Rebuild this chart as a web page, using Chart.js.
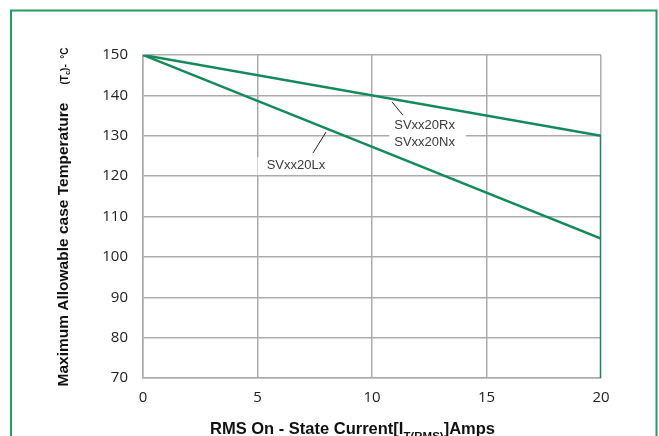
<!DOCTYPE html>
<html>
<head>
<meta charset="utf-8">
<script src="https://cdn.jsdelivr.net/npm/chart.js@4"></script>
<style>
html,body{margin:0;padding:0;background:#fff;}
#wrap{width:659px;height:436px;position:relative;}
</style>
</head>
<body>
<div id="wrap"><canvas id="c" width="659" height="436"></canvas></div>
<script>
// ---- data ----
const xTicks = [0, 5, 10, 15, 20];
const yTicks = [70, 80, 90, 100, 110, 120, 130, 140, 150];
const currentRN = [0, 20, 20];          // SVxx20Rx / SVxx20Nx (with drop at 20 A)
const tempRN    = [150, 130, 70];
const currentL  = [0, 20];              // SVxx20Lx
const tempL     = [150, 104.5];
const labelRx = "SVxx20Rx";
const labelNx = "SVxx20Nx";
const labelLx = "SVxx20Lx";

const GREEN = '#14895a';
const GRID = '#ababab';

function pts(xs, ys){ return xs.map((x,i)=>({x:x, y:ys[i]})); }

function drawRich(ctx, parts, x, y, align){
  let w = 0;
  parts.forEach(p=>{ ctx.font = p.font; p.w = ctx.measureText(p.t).width + (p.gap||0); w += p.w; });
  let cx = align === 'center' ? x - w/2 : x;
  parts.forEach(p=>{ ctx.font = p.font; ctx.fillText(p.t, cx, y + (p.dy||0)); cx += p.w; });
}

const annot = {
  id: 'annot',
  beforeDatasetsDraw(chart){
    const ctx = chart.ctx, xs = chart.scales.x, ys = chart.scales.y;
    ctx.save();
    ctx.fillStyle = '#fff';
    ctx.fillRect(xs.getPixelForValue(10.75), ys.getPixelForValue(134.6), xs.getPixelForValue(14.1)-xs.getPixelForValue(10.75), ys.getPixelForValue(126)-ys.getPixelForValue(134.6));
    ctx.fillRect(xs.getPixelForValue(5.0), ys.getPixelForValue(124.7), xs.getPixelForValue(8.6)-xs.getPixelForValue(5.0), ys.getPixelForValue(120.3)-ys.getPixelForValue(124.7));
    ctx.strokeStyle = '#222';
    ctx.lineWidth = 1;
    ctx.beginPath();
    ctx.moveTo(xs.getPixelForValue(10.87), ys.getPixelForValue(138.4));
    ctx.lineTo(xs.getPixelForValue(11.35), ys.getPixelForValue(135.1));
    ctx.moveTo(xs.getPixelForValue(7.99), ys.getPixelForValue(130.9));
    ctx.lineTo(xs.getPixelForValue(7.42), ys.getPixelForValue(125.7));
    ctx.stroke();
    ctx.fillStyle = '#3a3a3a';
    ctx.font = '13px "Liberation Sans", Arial, sans-serif';
    ctx.textBaseline = 'middle';
    ctx.textAlign = 'left';
    ctx.fillText(labelRx, xs.getPixelForValue(10.97), ys.getPixelForValue(132.6));
    ctx.fillText(labelNx, xs.getPixelForValue(10.97), ys.getPixelForValue(128.3));
    ctx.fillText(labelLx, xs.getPixelForValue(5.4), ys.getPixelForValue(122.6));
    ctx.restore();
  },
  afterDraw(chart){
    const ctx = chart.ctx;
    ctx.save();
    ctx.strokeStyle = '#239c64';
    ctx.lineWidth = 2;
    ctx.beginPath();
    ctx.moveTo(11, 440);
    ctx.lineTo(11, 10.5);
    ctx.lineTo(656.5, 10.5);
    ctx.lineTo(656.5, 440);
    ctx.stroke();
    ctx.fillStyle = '#111';
    ctx.textBaseline = 'alphabetic';
    ctx.textAlign = 'left';
    const F = '"Liberation Sans", Arial, sans-serif';
    drawRich(ctx, [
      {t:'RMS On - State Current[I', font:'bold 16.5px '+F},
      {t:'T(RMS)', font:'bold 11.5px '+F, dy:6},
      {t:']Amps', font:'bold 16.5px '+F}
    ], 210, 434, 'left');
    ctx.translate(68, 217);
    ctx.rotate(-Math.PI/2);
    drawRich(ctx, [
      {t:'Maximum Allowable case Temperature', font:'bold 15.5px '+F, gap:18},
      {t:'(T', font:'bold 10px '+F},
      {t:'c', font:'bold 7.5px '+F, dy:2},
      {t:')-  °C', font:'bold 10px '+F}
    ], 0, 0, 'center');
    ctx.restore();
  }
};

new Chart(document.getElementById('c'), {
  type: 'line',
  data: {
    datasets: [
      { data: pts(currentRN, tempRN), borderColor: GREEN, borderWidth: 2.5, pointRadius: 0, fill: false, tension: 0 },
      { data: pts(currentL, tempL),   borderColor: GREEN, borderWidth: 2.5, pointRadius: 0, fill: false, tension: 0 }
    ]
  },
  options: {
    responsive: false,
    animation: false,
    events: [],
    layout: { padding: { left: 0, right: 58, top: 55, bottom: 0 } },
    plugins: { legend: { display: false }, tooltip: { enabled: false }, title: { display: false } },
    scales: {
      x: {
        type: 'linear', min: 0, max: 20,
        afterBuildTicks(s){ s.ticks = xTicks.map(v=>({value:v})); },
        afterFit(s){ s.height = 58; },
        grid: { color: GRID, lineWidth: 1.5, drawTicks: false },
        border: { color: GRID, width: 1.5 },
        ticks: { padding: 11, color: '#222', font: { family: '"Open Sans", sans-serif', size: 15 } }
      },
      y: {
        min: 70, max: 150,
        afterBuildTicks(s){ s.ticks = yTicks.map(v=>({value:v})); },
        afterFit(s){ s.width = 143; },
        grid: { color: GRID, lineWidth: 1.5, drawTicks: false },
        border: { color: GRID, width: 1.5 },
        ticks: { padding: 15, color: '#222', font: { family: '"Open Sans", sans-serif', size: 15 } }
      }
    }
  },
  plugins: [annot]
});
</script>
</body>
</html>
